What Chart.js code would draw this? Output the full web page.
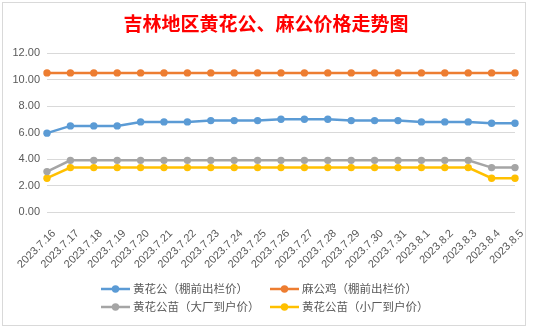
<!DOCTYPE html>
<html>
<head>
<meta charset="utf-8">
<script src="https://cdn.jsdelivr.net/npm/chart.js@4.4.0/dist/chart.umd.min.js"></script>
<style>
  html, body { margin: 0; padding: 0; background: #fff; }
  #wrap { width: 533px; height: 329px; position: relative; }
</style>
</head>
<body>
<div id="wrap"><canvas id="grafico" width="533" height="329"></canvas></div>
<script>
const fechas = ["2023.7.16", "2023.7.17", "2023.7.18", "2023.7.19", "2023.7.20", "2023.7.21", "2023.7.22",
  "2023.7.23", "2023.7.24", "2023.7.25", "2023.7.26", "2023.7.27", "2023.7.28", "2023.7.29",
  "2023.7.30", "2023.7.31", "2023.8.1", "2023.8.2", "2023.8.3", "2023.8.4", "2023.8.5"];

// 黄花公（棚前出栏价）
const huangGong = [5.95, 6.5, 6.5, 6.5, 6.8, 6.8, 6.8, 6.9, 6.9, 6.9, 7.0, 7.0, 7.0, 6.9, 6.9, 6.9, 6.8, 6.8, 6.8, 6.7, 6.7];
// 麻公鸡（棚前出栏价）
const maGong = [10.5, 10.5, 10.5, 10.5, 10.5, 10.5, 10.5, 10.5, 10.5, 10.5, 10.5, 10.5, 10.5, 10.5, 10.5, 10.5, 10.5, 10.5, 10.5, 10.5, 10.5];
// 黄花公苗（大厂到户价）
const miaoDaChang = [3.05, 3.9, 3.9, 3.9, 3.9, 3.9, 3.9, 3.9, 3.9, 3.9, 3.9, 3.9, 3.9, 3.9, 3.9, 3.9, 3.9, 3.9, 3.9, 3.35, 3.35];
// 黄花公苗（小厂到户价）
const miaoXiaoChang = [2.55, 3.35, 3.35, 3.35, 3.35, 3.35, 3.35, 3.35, 3.35, 3.35, 3.35, 3.35, 3.35, 3.35, 3.35, 3.35, 3.35, 3.35, 3.35, 2.55, 2.55];

const series = [
  { label: "黄花公（棚前出栏价）", data: huangGong, color: "#5B9BD5" },
  { label: "麻公鸡（棚前出栏价）", data: maGong, color: "#ED7D31" },
  { label: "黄花公苗（大厂到户价）", data: miaoDaChang, color: "#A5A5A5" },
  { label: "黄花公苗（小厂到户价）", data: miaoXiaoChang, color: "#FFC000" }
];

const titulo = "吉林地区黄花公、麻公价格走势图";
const fuente = "'Liberation Sans', 'Noto Sans CJK SC', sans-serif";

// marco, título y leyenda en dos filas
const extras = {
  id: "extras",
  beforeDraw(chart) {
    const c = chart.ctx;
    c.save();
    c.strokeStyle = "#D9D9D9";
    c.lineWidth = 1;
    c.strokeRect(2.5, 2.5, 523, 323);
    c.restore();
  },
  afterDraw(chart) {
    const c = chart.ctx;
    c.save();
    c.fillStyle = "#FF0000";
    c.font = "bold 19px 'Noto Sans CJK SC', sans-serif";
    c.textAlign = "center";
    c.textBaseline = "middle";
    c.fillText(titulo, 266, 24);

    const cols = [101, 270];
    const rows = [289, 307];
    chart.data.datasets.forEach((ds, i) => {
      const x = cols[i % 2];
      const y = rows[Math.floor(i / 2)];
      c.strokeStyle = ds.borderColor;
      c.lineWidth = 2.5;
      c.beginPath();
      c.moveTo(x, y);
      c.lineTo(x + 29, y);
      c.stroke();
      c.fillStyle = ds.borderColor;
      c.beginPath();
      c.arc(x + 14.5, y, 3.7, 0, Math.PI * 2);
      c.fill();
      c.fillStyle = "#595959";
      c.font = "11.5px 'Noto Sans CJK SC', sans-serif";
      c.textAlign = "left";
      c.textBaseline = "middle";
      c.fillText(ds.label, x + 32, y);
    });
    c.restore();
  }
};

const ctx = document.getElementById("grafico").getContext("2d");

new Chart(ctx, {
  type: "line",
  data: {
    labels: fechas,
    datasets: series.map(s => ({
      label: s.label,
      data: s.data,
      borderColor: s.color,
      backgroundColor: s.color,
      pointBackgroundColor: s.color,
      pointBorderWidth: 0,
      pointRadius: 3.7,
      borderWidth: 2.5,
      tension: 0
    }))
  },
  options: {
    responsive: false,
    animation: false,
    layout: { padding: { left: 7, right: 18, top: 53, bottom: 57 } },
    scales: {
      x: {
        grid: { display: false },
        border: { display: false },
        ticks: {
          color: "#595959",
          font: { family: fuente, size: 11 },
          minRotation: 45,
          maxRotation: 45,
          autoSkip: false,
          labelOffset: 7,
          padding: 7
        },
        afterFit: s => { s.height = 60; }
      },
      y: {
        min: 0,
        max: 12,
        grid: { color: "#D9D9D9", drawTicks: false },
        border: { display: false },
        ticks: {
          stepSize: 2,
          color: "#595959",
          padding: 7,
          font: { family: fuente, size: 11 },
          callback: v => v.toFixed(2)
        },
        afterFit: s => { s.width = 40; }
      }
    },
    plugins: {
      legend: { display: false },
      title: { display: false },
      tooltip: { enabled: false }
    }
  },
  plugins: [extras]
});
</script>
</body>
</html>
